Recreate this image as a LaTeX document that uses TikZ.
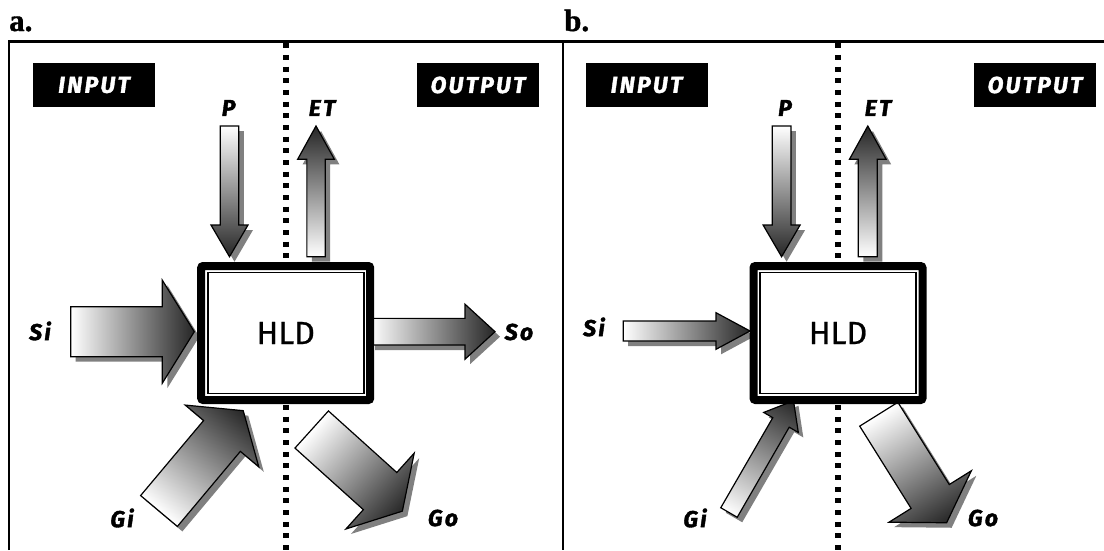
\documentclass[tikz,border=0pt]{standalone}
\usepackage{fontspec}
\setmainfont{Liberation Serif}[BoldFeatures={FakeBold=1.2}]
\newfontfamily\labfont{Fira Sans}[LetterSpace=10, BoldItalicFeatures={FakeBold=1.6}]
\newfontfamily\hldfont{Fira Sans}[FakeBold=0.7]
\tikzset{
  frameline/.style={line width=2.5pt},
  divider/.style={line width=5.3pt, dash pattern=on 5pt off 6.67pt},
  tag/.style={fill=black, text=white, minimum width=122pt, minimum height=44pt, inner sep=0pt,
    font=\labfont\bfseries\itshape\fontsize{23}{23}\selectfont},
  lab/.style={inner sep=0pt, font=\labfont\bfseries\itshape\fontsize{23}{23}\selectfont},
  panel/.style={inner sep=0pt, anchor=base west, font=\bfseries\fontsize{31}{31}\selectfont},
  hld/.style={draw, line width=8pt, rounded corners=2pt, fill=white, outer sep=0pt,
    minimum width=169pt, minimum height=134pt, inner sep=0pt,
    font=\hldfont\fontsize{32}{32}\selectfont},
  innerframe/.style={line width=1.8pt},
  arrowbody/.style={draw=black, line width=1.2pt, line join=miter, left color=white, right color=black!85},
  arrowshadow/.style={fill=black!50},
}
% tail x, tail y (screen), angle, length, shaft width, head width, head length
\newcommand\fatarrow[7]{%
  \begin{scope}[transform canvas={shift={({#1+5},{-#2-5})},rotate=#3}]
    \fill[arrowshadow] (0,{-#5/2}) -- ({#4-#7},{-#5/2}) -- ({#4-#7},{-#6/2}) -- (#4,0)
      -- ({#4-#7},{#6/2}) -- ({#4-#7},{#5/2}) -- (0,{#5/2}) -- cycle;
  \end{scope}
  \begin{scope}[transform canvas={shift={(#1,-#2)},rotate=#3}]
    \draw[arrowbody] (0,{-#5/2}) -- ({#4-#7},{-#5/2}) -- ({#4-#7},{-#6/2}) -- (#4,0)
      -- ({#4-#7},{#6/2}) -- ({#4-#7},{#5/2}) -- (0,{#5/2}) -- cycle;
  \end{scope}}
\begin{document}
\begin{tikzpicture}[x=1pt,y=1pt]
\useasboundingbox[fill=white] (0,0) rectangle (1104,-550);
% frames
\draw[frameline] (9,-550) -- (9,-41.5) -- (1104,-41.5);
\draw[frameline] (563,-41.5) -- (563,-550);
\node[panel] (lblA) at (9,-31) {a.};
\node[panel] (lblB) at (564,-31) {b.};
% dividers
\draw[divider] (286,-43.3) -- (286,-550);
\draw[divider] (838,-43.3) -- (838,-550);
% tags
\node[tag] (inA) at (94,-85) {INPUT};
\node[tag] (outA) at (478,-85) {OUTPUT};
\node[tag] (inB) at (646.5,-85) {INPUT};
\node[tag] (outB) at (1035,-85) {OUTPUT};
% arrows panel a
\fatarrow{229.5}{126}{-90}{130.7}{18.6}{37}{31.7}
\fatarrow{316}{256.7}{90}{130.7}{18.3}{36.7}{33.3}
\fatarrow{70.7}{331.7}{0}{123.6}{50}{103}{32}
\fatarrow{370}{331.7}{0}{125}{26.7}{55}{30}
\fatarrow{159}{511}{50}{131}{48}{96}{33}
\fatarrow{311.7}{429.5}{-42}{122}{50}{102}{30}
% arrows panel b
\fatarrow{781.6}{126}{-90}{130.7}{18.7}{37}{31.7}
\fatarrow{867.8}{256.7}{90}{130.7}{19}{36.7}{33.3}
\fatarrow{623.2}{331}{0}{126.8}{20}{36.6}{34}
\fatarrow{729}{512.5}{60}{129}{19}{40}{25}
\fatarrow{878.8}{414.2}{-58}{128}{45}{97}{31}
% HLD boxes
\node[hld] (hldA) at (285.7,-333) {HLD};
\draw[innerframe] ([shift={(6.5,6.5)}]hldA.south west) rectangle ([shift={(-6.5,-6.5)}]hldA.north east);
\node[hld] (hldB) at (838,-333) {HLD};
\draw[innerframe] ([shift={(6.5,6.5)}]hldB.south west) rectangle ([shift={(-6.5,-6.5)}]hldB.north east);
% labels
\node[lab] (pA) at (228.6,-108) {P};
\node[lab] (etA) at (322,-108) {ET};
\node[lab] (siA) at (40,-331) {Si};
\node[lab] (soA) at (519,-332) {So};
\node[lab] (giA) at (122,-518) {Gi};
\node[lab] (goA) at (443,-518) {Go};
\node[lab] (pB) at (785,-108) {P};
\node[lab] (etB) at (878,-108) {ET};
\node[lab] (siB) at (594,-327) {Si};
\node[lab] (giB) at (695,-518) {Gi};
\node[lab] (goB) at (983,-518) {Go};
\end{tikzpicture}
\end{document}
